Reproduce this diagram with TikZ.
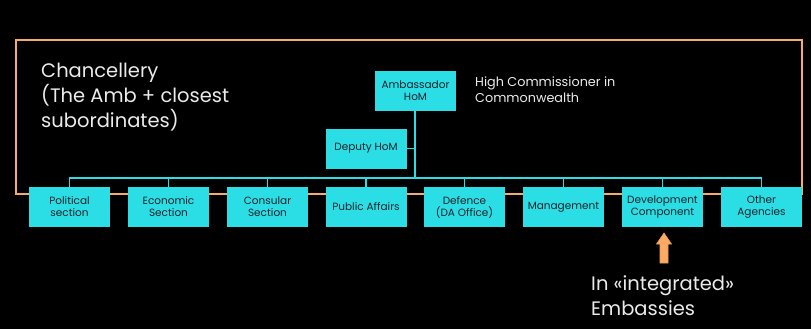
\documentclass[tikz,border=0pt]{standalone}
\usepackage{fontspec}
\setmainfont{Poppins}
\definecolor{cyanbox}{RGB}{43,222,230}
\definecolor{orangeline}{RGB}{247,170,106}
\definecolor{arrowfill}{RGB}{255,170,100}
\definecolor{boxtext}{RGB}{25,35,40}
\definecolor{bigtext}{RGB}{235,235,235}
\begin{document}
\begin{tikzpicture}[x=1pt,y=-1pt,
  unit/.style={fill=cyanbox, draw=none, minimum width=81pt, minimum height=40pt, inner sep=1pt,
    align=center, text=boxtext, font=\fontsize{10.5}{12}\selectfont},
  link/.style={draw=cyanbox, line width=1.2pt},
  big/.style={text=bigtext, align=left, anchor=north west, inner sep=0pt, font=\fontsize{19.5}{25}\selectfont},
  small/.style={text=bigtext, align=left, anchor=north west, inner sep=0pt, font=\fontsize{12.8}{16}\selectfont}]
\fill[black] (0,0) rectangle (811,329);
\useasboundingbox (0,0) rectangle (811,329);
% orange frame
\draw[orangeline, line width=2pt] (16,40) rectangle (802,194);
% top nodes
\node[unit] (amb) at (415.5,91) {Ambassador\\HoM};
\node[unit] (dep) at (366,148.5) {Deputy HoM};
% bottom nodes
\node[unit] (pol) at (69.5,207) {Political\\section};
\node[unit] (eco) at (168.5,207) {Economic\\Section};
\node[unit] (con) at (267.5,207) {Consular\\Section};
\node[unit] (pub) at (366,207) {Public Affairs};
\node[unit] (def) at (464.5,207) {Defence\\(DA Office)};
\node[unit] (man) at (563.5,207) {Management};
\node[unit] (dev) at (662.5,207) {Development\\Component};
\node[unit] (oth) at (761.5,207) {Other\\Agencies};
% connectors
\coordinate (bus) at (415,178);
\draw[link] (amb.south -| bus) -- (bus);
\draw[link] (dep.east) -- (dep.east -| bus);
\draw[link] (pol.north) -- (pol.north |- bus) -- (oth.north |- bus) -- (oth.north);
\foreach \n in {eco,con,pub,def,man,dev}{
  \draw[link] (\n.north) -- (\n.north |- bus);
}
% texts
\node[big] (chan) at (41,63) {Chancellery\\(The Amb + closest\\subordinates)};
\node[small] (hc) at (475,77) {High Commissioner in\\Commonwealth};
\node[big] (integ) at (591,275) {In «integrated»\\Embassies};
% block arrow
\draw[fill=arrowfill, draw=orangeline!70!brown, line width=0.6pt]
  (660,263) -- (668,263) -- (668,244) -- (671.5,244) -- (664,233) -- (656.5,244) -- (660,244) -- cycle;
\end{tikzpicture}
\end{document}
